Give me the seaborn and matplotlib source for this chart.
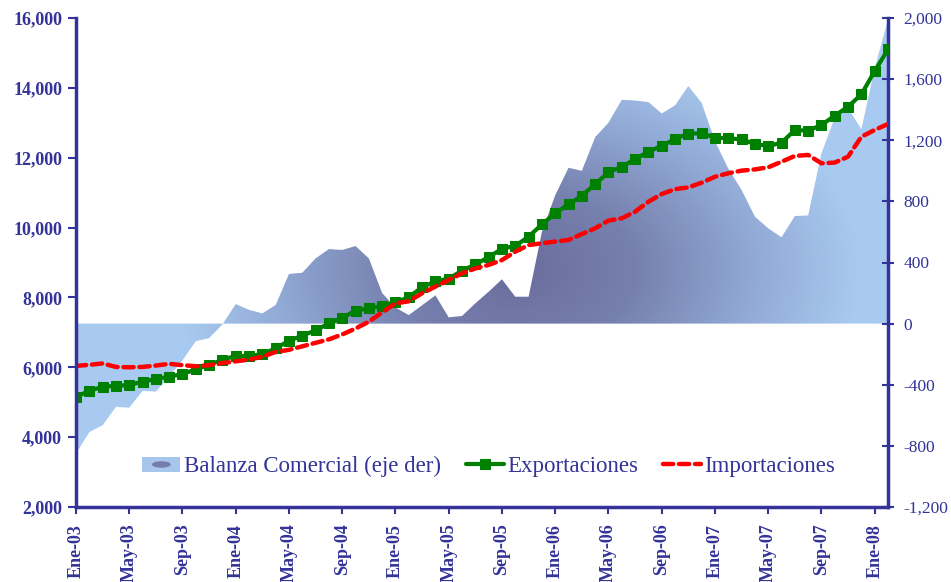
import numpy as np
import pandas as pd
import matplotlib
matplotlib.use("Agg")
import matplotlib.pyplot as plt
import seaborn as sns
from matplotlib.legend_handler import HandlerBase
from matplotlib.patches import Rectangle, Ellipse
from matplotlib.colors import LinearSegmentedColormap
from matplotlib.ticker import FuncFormatter

# Monthly series, Ene-03 .. Feb-08 (millones)
exportaciones = [
    5150, 5330, 5440, 5470, 5490, 5590, 5665, 5730, 5810, 5940, 6070, 6210,
    6330, 6320, 6380, 6540, 6760, 6905, 7060, 7255, 7420, 7620, 7690, 7755,
    7855, 8010, 8290, 8460, 8540, 8765, 8950, 9150, 9395, 9475, 9740, 10090,
    10410, 10665, 10910, 11245, 11580, 11745, 11955, 12175, 12335, 12535, 12690, 12700,
    12575, 12555, 12525, 12395, 12335, 12430, 12790, 12775, 12935, 13205, 13460, 13815,
    14480, 15100,
]
importaciones = [
    6040, 6070, 6110, 6010, 6000, 6010, 6050, 6100, 6060, 6030, 6060, 6120,
    6170, 6220, 6300, 6440, 6500, 6600, 6700, 6800, 6940, 7110, 7305, 7575,
    7830, 7890, 8120, 8310, 8500, 8690, 8830, 8930, 9070, 9310, 9500, 9550,
    9600, 9645, 9815, 9980, 10200, 10265, 10455, 10740, 10960, 11100, 11150, 11285,
    11455, 11555, 11630, 11665, 11725, 11885, 12050, 12080, 11840, 11860, 12030, 12600,
    12795, 12965,
]
balanza = [
    -850, -710, -665, -545, -550, -440, -445, -345, -240, -115, -95, -5,
    128, 90, 67, 122, 325, 333, 427, 488, 482, 508, 427, 200,
    105, 56, 120, 185, 41, 50, 133, 209, 290, 176, 176, 600,
    840, 1020, 1000, 1220, 1315, 1465, 1460, 1450, 1375, 1428, 1555, 1445,
    1195, 1015, 875, 700, 624, 565, 704, 708, 1114, 1348, 1410, 1272,
    1670, 1990,
]
tick_labels = [
    "Ene-03", "May-03", "Sep-03", "Ene-04", "May-04", "Sep-04", "Ene-05",
    "May-05", "Sep-05", "Ene-06", "May-06", "Sep-06", "Ene-07", "May-07",
    "Sep-07", "Ene-08",
]
series_names = ["Balanza Comercial (eje der)", "Exportaciones", "Importaciones"]

NAVY = "#333399"
GREEN = "#008000"
RED = "#ff0000"

sns.set_theme(style="white")
plt.rcParams["font.family"] = ["Liberation Serif", "DejaVu Serif"]

df = pd.DataFrame({
    "mes": np.arange(len(exportaciones)),
    "Exportaciones": exportaciones,
    "Importaciones": importaciones,
    "Balanza": balanza,
})
n = len(df)

fig = plt.figure(figsize=(9.51, 5.82), dpi=100)
ax = fig.add_axes([76 / 951, 1 - 507 / 582, (888 - 76) / 951, (507 - 18) / 582])
ax2 = ax.twinx()
ax.set_zorder(ax2.get_zorder() + 1)
ax.patch.set_visible(False)

# Trade balance area on the right axis, filled with a centre-out gradient
area = ax2.fill_between(df["mes"], 0, df["Balanza"], facecolor="none", edgecolor="none")
cmap = LinearSegmentedColormap.from_list(
    "bal", [(0.0, "#6a6c9c"), (0.35, "#7680ae"), (0.7, "#92aad6"), (1.0, "#a8caf0")])
gx = np.linspace(0, n - 1, 500)
gy = np.linspace(-1200, 2000, 400)
GX, GY = np.meshgrid(gx, gy)
t = np.sqrt(((GX - 33) / 26) ** 2 + ((GY - 350) / 1500) ** 2)
img = ax2.imshow(np.clip(t, 0, 1), extent=[0, n - 1, -1200, 2000], origin="lower",
                 cmap=cmap, vmin=0, vmax=1, aspect="auto", interpolation="bilinear")
img.set_clip_path(area.get_paths()[0], transform=ax2.transData)

# Exports and imports on the left axis
sns.lineplot(data=df, x="mes", y="Exportaciones", ax=ax, color=GREEN, lw=3,
             marker="s", markersize=7, markeredgecolor=GREEN, markerfacecolor=GREEN)
sns.lineplot(data=df, x="mes", y="Importaciones", ax=ax, color=RED, lw=3.2,
             linestyle=(0, (2.3, 1.3)), dash_capstyle="round")
exp_line, imp_line = ax.lines[0], ax.lines[1]

ax.set_xlim(0, n - 1)
ax.set_ylim(2000, 16000)
ax2.set_ylim(-1200, 2000)
ax2.set_xlim(0, n - 1)

ax.set_yticks(range(2000, 16001, 2000))
ax2.set_yticks(range(-1200, 2001, 400))
ax.yaxis.set_major_formatter(FuncFormatter(lambda v, p: f"{int(v):,}"))
ax2.yaxis.set_major_formatter(FuncFormatter(lambda v, p: f"{int(v):,}"))
ax.set_xticks(range(0, n, 4))
ax.set_xticklabels(tick_labels, rotation=90)
ax.set_xlabel("")
ax.set_ylabel("")
ax2.set_ylabel("")

for s in ["top", "right"]:
    ax.spines[s].set_visible(False)
for s in ["top", "left", "bottom"]:
    ax2.spines[s].set_visible(False)
for s in ["left", "bottom"]:
    ax.spines[s].set_color(NAVY)
    ax.spines[s].set_linewidth(2.5)
ax2.spines["right"].set_color(NAVY)
ax2.spines["right"].set_linewidth(2.5)

ax.tick_params(axis="y", direction="out", length=6, width=1.5, color=NAVY, pad=4,
               labelsize=13, labelcolor=NAVY, left=True)
ax.tick_params(axis="x", direction="out", length=5, width=1.5, color=NAVY, pad=7,
               labelsize=13, labelcolor=NAVY, bottom=True)
ax2.tick_params(axis="y", direction="inout", length=8, width=1.5, color=NAVY, pad=7,
                labelsize=12.5, labelcolor=NAVY, right=True)
for lab in ax.get_yticklabels() + ax.get_xticklabels():
    lab.set_fontweight("bold")


class GradientPatchHandler(HandlerBase):
    def create_artists(self, legend, orig_handle, xdescent, ydescent, width, height,
                       fontsize, trans):
        outer = Rectangle((-xdescent, -ydescent + height * 0.05), width, height * 0.9,
                          facecolor="#a6c6ec", edgecolor="none", transform=trans)
        inner = Ellipse((-xdescent + width / 2, -ydescent + height / 2), width * 0.5,
                        height * 0.4, facecolor="#6e6fa0", edgecolor="none", alpha=0.85,
                        transform=trans)
        return [outer, inner]


area_handle = Rectangle((0, 0), 1, 1)
leg = ax.legend(handles=[area_handle, exp_line, imp_line], labels=series_names,
                loc="center", bbox_to_anchor=(0.5086, 0.082), ncol=3, frameon=False,
                fontsize=16.5, labelcolor=NAVY, handlelength=1.65, handletextpad=0.15,
                columnspacing=1.1, handler_map={Rectangle: GradientPatchHandler()})

fig.savefig("out.png", dpi=100)
